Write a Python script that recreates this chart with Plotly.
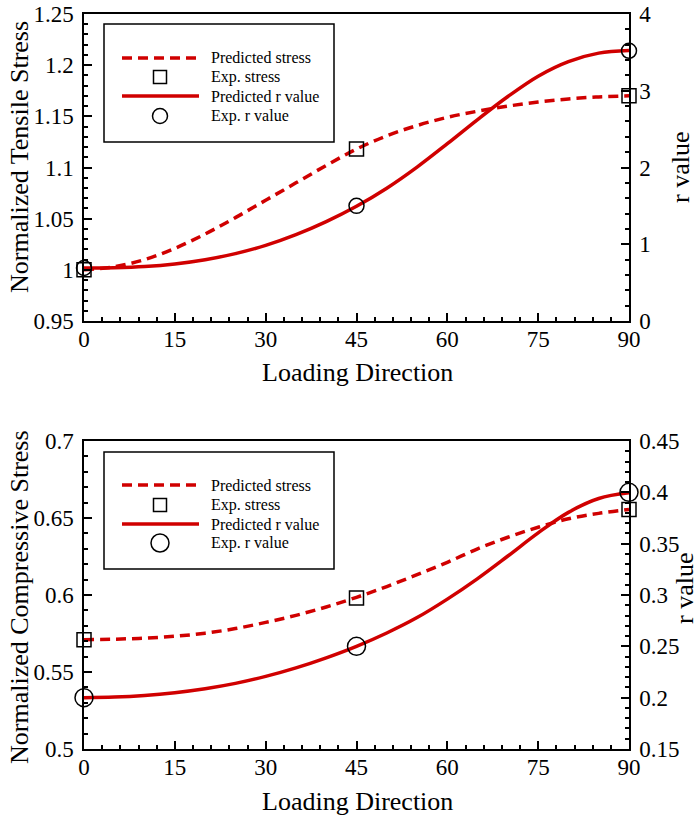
import plotly.graph_objects as go

# ---------------- data ----------------
angles = [0, 5, 10, 15, 20, 25, 30, 35, 40, 45, 50, 55, 60, 65, 70, 75, 80, 85, 90]

tens_stress_pred = [1.000, 1.003, 1.010, 1.021, 1.035, 1.051, 1.068, 1.085, 1.102, 1.118,
                    1.131, 1.141, 1.149, 1.155, 1.160, 1.164, 1.167, 1.169, 1.170]
tens_r_pred = [0.69, 0.695, 0.71, 0.743, 0.798, 0.878, 0.985, 1.125, 1.295, 1.495,
               1.73, 2.005, 2.31, 2.625, 2.925, 3.19, 3.38, 3.49, 3.525]

comp_stress_pred = [0.5710, 0.5713, 0.5720, 0.5732, 0.5752, 0.5782, 0.5822, 0.5868, 0.5922, 0.5985,
                    0.6055, 0.6132, 0.6212, 0.6300, 0.6375, 0.6440, 0.6495, 0.6530, 0.6555]
comp_r_pred = [0.2000, 0.2006, 0.2022, 0.2049, 0.2087, 0.2139, 0.2207, 0.2290, 0.2388, 0.2500,
               0.2630, 0.2780, 0.2960, 0.3160, 0.3380, 0.3605, 0.3805, 0.3940, 0.3995]

exp_angles = [0, 45, 90]
tens_stress_exp = [1.000, 1.118, 1.170]
tens_r_exp = [0.69, 1.50, 3.52]
comp_stress_exp = [0.571, 0.598, 0.6555]
comp_r_exp = [0.200, 0.250, 0.400]

legend_labels = ["Predicted stress", "Exp. stress", "Predicted r value", "Exp. r value"]

# ---------------- style ----------------
W, H = 699, 816
RED = "#d00000"
FONT = "Liberation Serif, Times New Roman, serif"


def px(x):
    return x / W


def py(y):
    return 1 - y / H


XDOM = [px(84), px(629)]
TOP_DOM = [py(321), py(14)]
BOT_DOM = [py(749), py(441)]

fig = go.Figure()


def add_panel(xa, ya_l, ya_r, s_pred, r_pred, s_exp, r_exp, circ_size):
    fig.add_trace(go.Scatter(x=angles, y=s_pred, mode="lines", line_shape="spline",
                             line=dict(color=RED, width=3.5, dash="10px,6px"),
                             xaxis=xa, yaxis=ya_l, showlegend=False, cliponaxis=False))
    fig.add_trace(go.Scatter(x=angles, y=r_pred, mode="lines", line_shape="spline",
                             line=dict(color=RED, width=3.5),
                             xaxis=xa, yaxis=ya_r, showlegend=False, cliponaxis=False))
    fig.add_trace(go.Scatter(x=exp_angles, y=s_exp, mode="markers",
                             marker=dict(symbol="square-open", size=14, color="black",
                                         line=dict(width=1.5, color="black")),
                             xaxis=xa, yaxis=ya_l, showlegend=False, cliponaxis=False))
    fig.add_trace(go.Scatter(x=exp_angles, y=r_exp, mode="markers",
                             marker=dict(symbol="circle-open", size=circ_size, color="black",
                                         line=dict(width=1.5, color="black")),
                             xaxis=xa, yaxis=ya_r, showlegend=False, cliponaxis=False))


add_panel("x", "y", "y2", tens_stress_pred, tens_r_pred, tens_stress_exp, tens_r_exp, 15)
add_panel("x2", "y3", "y4", comp_stress_pred, comp_r_pred, comp_stress_exp, comp_r_exp, 18)

tickfont = dict(family=FONT, size=23, color="black")


def xaxis_cfg(anchor):
    return dict(domain=XDOM, anchor=anchor, range=[0, 90], tick0=0, dtick=15,
                ticks="inside", ticklen=8, tickwidth=1.5, tickcolor="black",
                minor=dict(dtick=3, tick0=0, ticks="inside", ticklen=4, tickwidth=1.5,
                           tickcolor="black"),
                showline=True, linewidth=1.5, linecolor="black", mirror=True,
                showgrid=False, zeroline=False, tickfont=tickfont, ticklabelstandoff=-3,
                automargin=False)


def yaxis_cfg(dom, rng, dt, mdt, side="left", overlay=None, anchor="x"):
    d = dict(domain=dom, anchor=anchor, range=rng, tick0=rng[0], dtick=dt,
             ticks="inside", ticklen=8, tickwidth=1.5, tickcolor="black",
             minor=dict(dtick=mdt, tick0=rng[0], ticks="inside", ticklen=4, tickwidth=1.5,
                        tickcolor="black"),
             showline=True, linewidth=1.5, linecolor="black",
             showgrid=False, zeroline=False, tickfont=tickfont, side=side,
             ticklabelstandoff=4, automargin=False)
    if overlay:
        d["overlaying"] = overlay
    return d


fig.update_layout(
    template="none",
    width=W, height=H,
    margin=dict(l=0, r=0, t=0, b=0, pad=0, autoexpand=False),
    paper_bgcolor="white", plot_bgcolor="white",
    showlegend=False,
    font=dict(family=FONT, color="black"),
    xaxis=xaxis_cfg("y"),
    xaxis2=xaxis_cfg("y3"),
    yaxis=yaxis_cfg(TOP_DOM, [0.95, 1.25], 0.05, 0.01, anchor="x"),
    yaxis2=yaxis_cfg(TOP_DOM, [0, 4], 1, 0.2, side="right", overlay="y", anchor="x"),
    yaxis3=yaxis_cfg(BOT_DOM, [0.5, 0.7], 0.05, 0.01, anchor="x2"),
    yaxis4=yaxis_cfg(BOT_DOM, [0.15, 0.45], 0.05, 0.01, side="right", overlay="y3", anchor="x2"),
)

# ---------------- axis titles ----------------
titlefont = dict(family=FONT, size=26, color="black")
ann = []
ann.append(dict(text="Loading Direction", x=px(357), y=py(373), xref="paper", yref="paper",
                showarrow=False, font=titlefont, xanchor="center", yanchor="middle"))
ann.append(dict(text="Loading Direction", x=px(357), y=py(801), xref="paper", yref="paper",
                showarrow=False, font=titlefont, xanchor="center", yanchor="middle"))
ann.append(dict(text="Normalized Tensile Stress", x=px(19), y=py(157), xref="paper", yref="paper",
                showarrow=False, font=titlefont, textangle=-90, xanchor="center", yanchor="middle"))
ann.append(dict(text="Normalized Compressive Stress", x=px(19), y=py(597), xref="paper", yref="paper",
                showarrow=False, font=titlefont, textangle=-90, xanchor="center", yanchor="middle"))
ann.append(dict(text="r value", x=px(681), y=py(168), xref="paper", yref="paper",
                showarrow=False, font=titlefont, textangle=-90, xanchor="center", yanchor="middle"))
ann.append(dict(text="r value", x=px(684), y=py(589), xref="paper", yref="paper",
                showarrow=False, font=titlefont, textangle=-90, xanchor="center", yanchor="middle"))

# ---------------- legends (drawn) ----------------
shapes = []
legfont = dict(family=FONT, size=16, color="black")


def add_legend(box_top, box_bot, rows, circ):
    shapes.append(dict(type="rect", xref="paper", yref="paper",
                       x0=px(104), x1=px(334), y0=py(box_bot), y1=py(box_top),
                       line=dict(color="black", width=1.5), fillcolor="white", layer="above"))
    shapes.append(dict(type="line", xref="paper", yref="paper", x0=px(122), x1=px(199),
                       y0=py(rows[0]), y1=py(rows[0]),
                       line=dict(color=RED, width=3.5, dash="10px,6px"), layer="above"))
    shapes.append(dict(type="rect", xref="paper", yref="paper", x0=px(160 - 6.5), x1=px(160 + 6.5),
                       y0=py(rows[1] + 6.5), y1=py(rows[1] - 6.5),
                       line=dict(color="black", width=1.5), layer="above"))
    shapes.append(dict(type="line", xref="paper", yref="paper", x0=px(122), x1=px(199),
                       y0=py(rows[2]), y1=py(rows[2]),
                       line=dict(color=RED, width=3.5), layer="above"))
    r = circ / 2
    shapes.append(dict(type="circle", xref="paper", yref="paper", x0=px(160 - r), x1=px(160 + r),
                       y0=py(rows[3] + r), y1=py(rows[3] - r),
                       line=dict(color="black", width=1.5), layer="above"))
    for lab, yy in zip(legend_labels, rows):
        ann.append(dict(text=lab, x=px(209), y=py(yy), xref="paper", yref="paper",
                        showarrow=False, font=legfont, xanchor="left", yanchor="middle"))


add_legend(24, 142, [58, 77, 96, 116], 15)
add_legend(452, 569, [485, 505, 524, 543], 18)

fig.update_layout(annotations=ann, shapes=shapes)

fig.write_html("out.html")
